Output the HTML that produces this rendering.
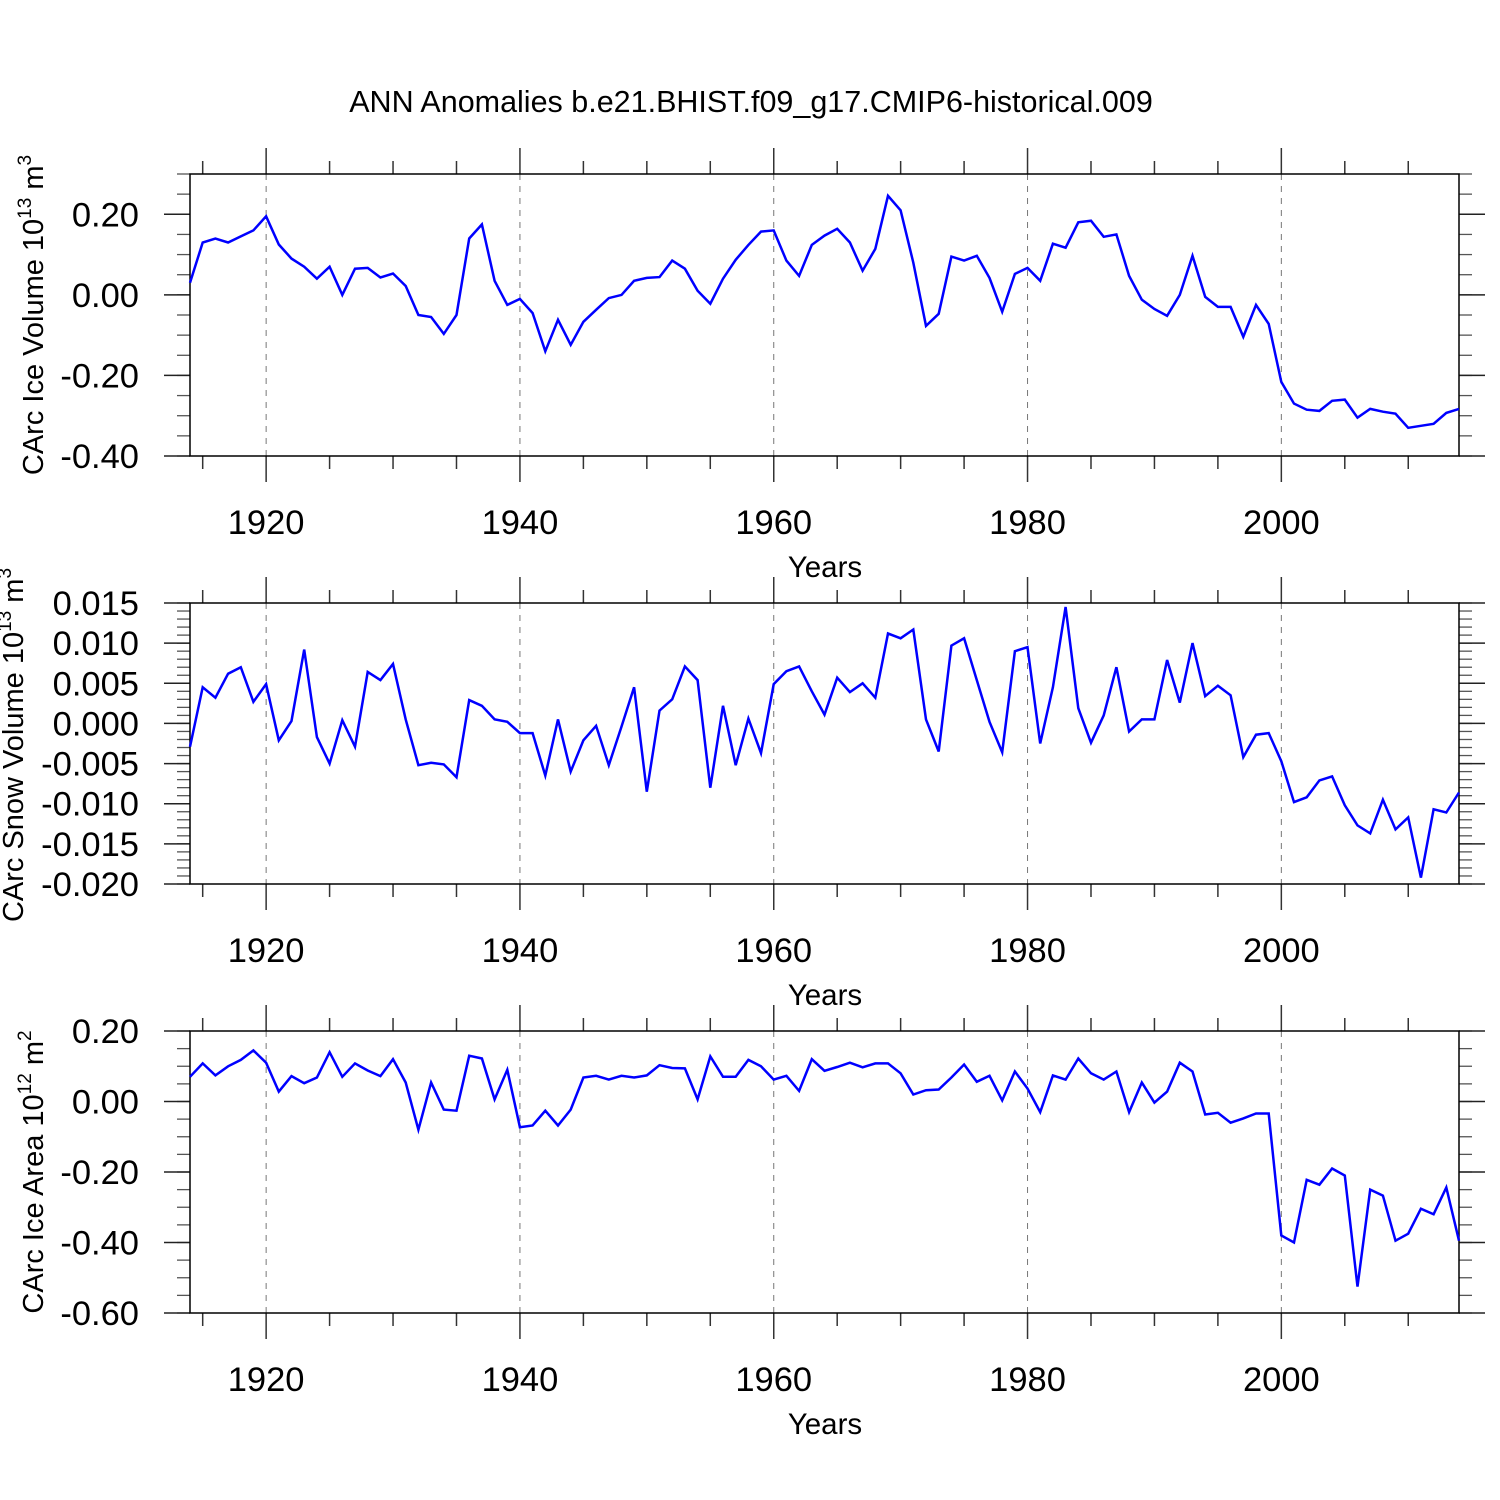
<!DOCTYPE html>
<html><head><meta charset="utf-8"><style>
html,body{margin:0;padding:0;background:#fff;}
svg{display:block;font-family:"Liberation Sans",Arial,sans-serif;}
</style></head><body>
<svg id="chart" width="1500" height="1500" viewBox="0 0 1500 1500" xmlns="http://www.w3.org/2000/svg">
<rect width="1500" height="1500" fill="#fff"/>
<text x="751" y="112" font-size="30.5" text-anchor="middle">ANN Anomalies b.e21.BHIST.f09_g17.CMIP6-historical.009</text>
</svg>
<script>
const startYear = 1914;
const xTickYears = [1920, 1940, 1960, 1980, 2000];
const iceVolume = [0.03,0.13,0.14,0.13,0.145,0.16,0.195,0.125,0.09,0.07,0.04,0.07,0.0,0.065,0.067,0.043,0.053,0.022,-0.05,-0.055,-0.097,-0.05,0.14,0.175,0.035,-0.025,-0.01,-0.045,-0.14,-0.062,-0.124,-0.067,-0.037,-0.008,0.0,0.035,0.042,0.044,0.085,0.065,0.01,-0.022,0.04,0.087,0.124,0.157,0.16,0.085,0.047,0.124,0.147,0.164,0.13,0.06,0.114,0.246,0.21,0.08,-0.077,-0.047,0.095,0.085,0.097,0.042,-0.042,0.052,0.067,0.035,0.127,0.117,0.18,0.184,0.144,0.15,0.047,-0.012,-0.035,-0.052,0.0,0.097,-0.005,-0.03,-0.03,-0.104,-0.025,-0.072,-0.216,-0.27,-0.285,-0.288,-0.263,-0.26,-0.305,-0.283,-0.29,-0.295,-0.33,-0.325,-0.32,-0.293,-0.283];
const snowVolume = [-0.0029,0.0045,0.0032,0.0062,0.007,0.0027,0.0049,-0.0021,0.0003,0.0092,-0.0017,-0.005,0.0004,-0.0029,0.0064,0.0054,0.0074,0.0005,-0.0052,-0.0049,-0.0051,-0.0067,0.0029,0.0022,0.0005,0.0002,-0.0012,-0.0012,-0.0065,0.0005,-0.006,-0.0021,-0.0003,-0.0052,-0.0004,0.0045,-0.0085,0.0016,0.003,0.0071,0.0054,-0.008,0.0022,-0.0052,0.0006,-0.0037,0.0049,0.0065,0.0071,0.004,0.0011,0.0057,0.0039,0.005,0.0032,0.0112,0.0106,0.0117,0.0005,-0.0035,0.0097,0.0106,0.0054,0.0002,-0.0036,0.009,0.0095,-0.0025,0.0045,0.0145,0.0019,-0.0024,0.001,0.007,-0.001,0.0005,0.0005,0.0079,0.0026,0.01,0.0034,0.0047,0.0035,-0.0042,-0.0014,-0.0012,-0.0047,-0.0098,-0.0092,-0.0071,-0.0066,-0.0102,-0.0127,-0.0137,-0.0095,-0.0132,-0.0117,-0.0192,-0.0107,-0.0111,-0.0086];
const iceArea = [0.07,0.108,0.074,0.1,0.118,0.145,0.11,0.028,0.072,0.052,0.068,0.14,0.07,0.108,0.088,0.072,0.12,0.054,-0.08,0.054,-0.023,-0.026,0.13,0.122,0.006,0.09,-0.073,-0.068,-0.026,-0.068,-0.023,0.068,0.073,0.062,0.073,0.068,0.074,0.103,0.095,0.094,0.006,0.128,0.07,0.07,0.118,0.1,0.062,0.073,0.03,0.12,0.087,0.098,0.11,0.097,0.108,0.108,0.08,0.02,0.032,0.034,0.068,0.105,0.056,0.073,0.003,0.085,0.037,-0.03,0.074,0.062,0.122,0.08,0.062,0.085,-0.03,0.054,-0.003,0.028,0.11,0.085,-0.037,-0.032,-0.06,-0.048,-0.034,-0.034,-0.38,-0.4,-0.222,-0.236,-0.19,-0.21,-0.525,-0.25,-0.267,-0.395,-0.375,-0.304,-0.32,-0.244,-0.395];
const iceVolumeTicks = ["0.20","0.00","-0.20","-0.40"];
const snowVolumeTicks = ["0.015","0.010","0.005","0.000","-0.005","-0.010","-0.015","-0.020"];
const iceAreaTicks = ["0.20","0.00","-0.20","-0.40","-0.60"];

const NS = "http://www.w3.org/2000/svg";
const svg = document.getElementById('chart');
const X0 = 190, X1 = 1459, Y0 = 1914, Y1 = 2014;
function xScale(yr){ return X0 + (yr - Y0) * (X1 - X0) / (Y1 - Y0); }
function mk(tag, attrs, parent){
  const e = document.createElementNS(NS, tag);
  for (const k in attrs) e.setAttribute(k, attrs[k]);
  (parent || svg).appendChild(e); return e;
}
const panels = [
  {key:'ice-volume', data:iceVolume, ticks:iceVolumeTicks, top:174, bot:456, vmin:-0.4, vmax:0.3, minorStep:0.05, label:['CArc Ice Volume 10','13',' m','3'], lx:43, ly:315},
  {key:'snow-volume', data:snowVolume, ticks:snowVolumeTicks, top:603, bot:884, vmin:-0.02, vmax:0.015, minorStep:0.001, label:['CArc Snow Volume 10','13',' m','3'], lx:23, ly:745},
  {key:'ice-area', data:iceArea, ticks:iceAreaTicks, top:1031, bot:1313, vmin:-0.6, vmax:0.2, minorStep:0.05, label:['CArc Ice Area 10','12',' m','2'], lx:43, ly:1172}
];
panels.forEach(p => {
  const g = mk('g', {});
  
  
  const ys = v => p.bot - (v - p.vmin) * (p.bot - p.top) / (p.vmax - p.vmin);
  xTickYears.forEach(yr => {
    const l = mk('line', {x1:xScale(yr), x2:xScale(yr), y1:p.top, y2:p.bot, stroke:'#777', 'stroke-width':1, 'stroke-dasharray':'6,6'}, g);
    
    
  });
  for (let yr = 1915; yr <= 2010; yr += 5) {
    const major = yr % 20 === 0;
    const len = major ? 26 : 13, x = xScale(yr);
    mk('line', {x1:x, x2:x, y1:p.top, y2:p.top - len, stroke:'#333', 'stroke-width':1.5}, g);
    mk('line', {x1:x, x2:x, y1:p.bot, y2:p.bot + len, stroke:'#333', 'stroke-width':1.5}, g);
  }
  xTickYears.forEach(yr => {
    const t = mk('text', {x:xScale(yr), y:p.bot + 78, 'font-size':34.5, 'text-anchor':'middle'}, g);
    
    
    t.textContent = yr;
  });
  const xt = mk('text', {x:825, y:p.bot + 121, 'font-size':29.5, 'text-anchor':'middle'}, g);
  
  
  xt.textContent = 'Years';
  const n = Math.round((p.vmax - p.vmin) / p.minorStep);
  for (let i = 0; i <= n; i++) {
    const y = ys(p.vmin + i * p.minorStep);
    mk('line', {x1:X0, x2:X0 - 13, y1:y, y2:y, stroke:'#555', 'stroke-width':1.3}, g);
    mk('line', {x1:X1, x2:X1 + 13, y1:y, y2:y, stroke:'#555', 'stroke-width':1.3}, g);
  }
  p.ticks.forEach(lbl => {
    const y = ys(parseFloat(lbl));
    mk('line', {x1:X0, x2:X0 - 26, y1:y, y2:y, stroke:'#222', 'stroke-width':1.5}, g);
    mk('line', {x1:X1, x2:X1 + 26, y1:y, y2:y, stroke:'#222', 'stroke-width':1.5}, g);
    const t = mk('text', {x:139, y:y + 12, 'font-size':34.5, 'text-anchor':'end'}, g);
    
    
    t.textContent = lbl;
  });
  mk('rect', {x:X0, y:p.top, width:X1 - X0, height:p.bot - p.top, fill:'none', stroke:'#000', 'stroke-width':1.5}, g);
  const pts = p.data.map((v, i) => xScale(startYear + i).toFixed(1) + ',' + ys(v).toFixed(1)).join(' ');
  const pl = mk('polyline', {points:pts, fill:'none', stroke:'#0000ff', 'stroke-width':2.5, 'stroke-linejoin':'miter'}, g);
  
  
  const yt = mk('text', {x:0, y:0, 'font-size':29, 'text-anchor':'middle', transform:'translate(' + p.lx + ',' + p.ly + ') rotate(-90)'}, g);
  
  
  const parts = p.label;
  const a = mk('tspan', {}, yt); a.textContent = parts[0];
  const b = mk('tspan', {dy:-12, 'font-size':19}, yt); b.textContent = parts[1];
  const c = mk('tspan', {dy:12}, yt); c.textContent = parts[2];
  const d = mk('tspan', {dy:-12, 'font-size':19}, yt); d.textContent = parts[3];
});
</script>
</body></html>
